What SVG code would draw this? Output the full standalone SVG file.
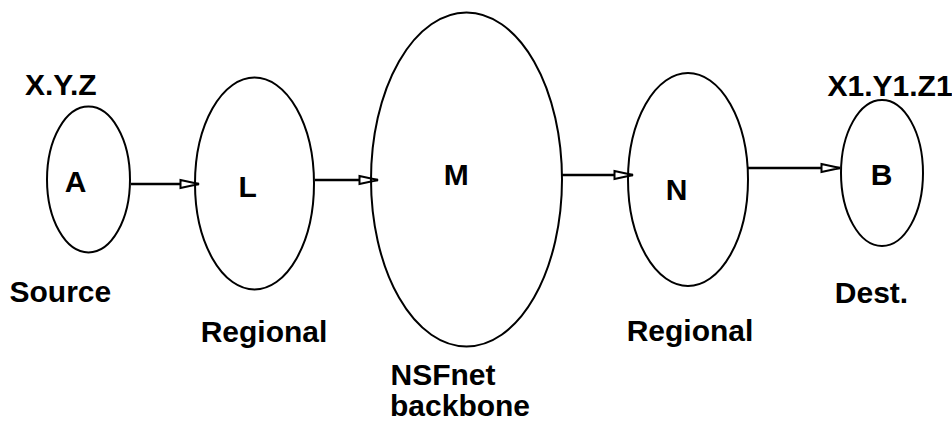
<svg xmlns="http://www.w3.org/2000/svg" width="952" height="421" viewBox="0 0 952 421">
<style>
.node{fill:none;stroke:#000;stroke-width:2}
.lbl{font-family:"Liberation Sans",Arial,Helvetica,sans-serif;font-weight:bold;font-size:30px;fill:#000}
.edge{stroke:#000;stroke-width:2.5;fill:none}
</style>
<defs>
<marker id="arr" markerUnits="userSpaceOnUse" markerWidth="22" markerHeight="12" viewBox="0 0 22 12" refX="20" refY="6" orient="auto">
<path d="M1.5,2 L20,6 L1.5,10 Z" fill="#fff" stroke="#000" stroke-width="2"/>
</marker>
</defs>
<rect width="952" height="421" fill="#fff"/>
<g id="connectors">
<line class="edge" x1="131" y1="184" x2="199" y2="184" marker-end="url(#arr)"/>
<line class="edge" x1="315" y1="180" x2="378" y2="180" marker-end="url(#arr)"/>
<line class="edge" x1="562" y1="175" x2="633" y2="175" marker-end="url(#arr)"/>
<line class="edge" x1="748" y1="168" x2="840" y2="168" marker-end="url(#arr)"/>
</g>
<g id="node-A">
<ellipse class="node" cx="88.5" cy="179.5" rx="41.5" ry="73"/>
<text class="lbl" x="75.5" y="192" text-anchor="middle">A</text>
<text class="lbl" x="25" y="95">X.Y.Z</text>
<text class="lbl" x="9.5" y="302">Source</text>
</g>
<g id="node-L">
<ellipse class="node" cx="254.5" cy="183.5" rx="59.5" ry="106"/>
<text class="lbl" x="238.5" y="197">L</text>
<text class="lbl" x="200.7" y="342">Regional</text>
</g>
<g id="node-M">
<ellipse class="node" cx="466.5" cy="179.5" rx="95.5" ry="167"/>
<text class="lbl" x="443.8" y="185">M</text>
<text class="lbl" x="390.5" y="385">NSFnet</text>
<text class="lbl" x="390" y="416">backbone</text>
</g>
<g id="node-N">
<ellipse class="node" cx="688" cy="179.5" rx="60" ry="106.5"/>
<text class="lbl" x="665.8" y="200">N</text>
<text class="lbl" x="626.7" y="341">Regional</text>
</g>
<g id="node-B">
<ellipse class="node" cx="882" cy="173" rx="41" ry="73"/>
<text class="lbl" x="870.8" y="185">B</text>
<text class="lbl" x="827.5" y="96">X1.Y1.Z1</text>
<text class="lbl" x="834.8" y="303">Dest.</text>
</g>
</svg>
